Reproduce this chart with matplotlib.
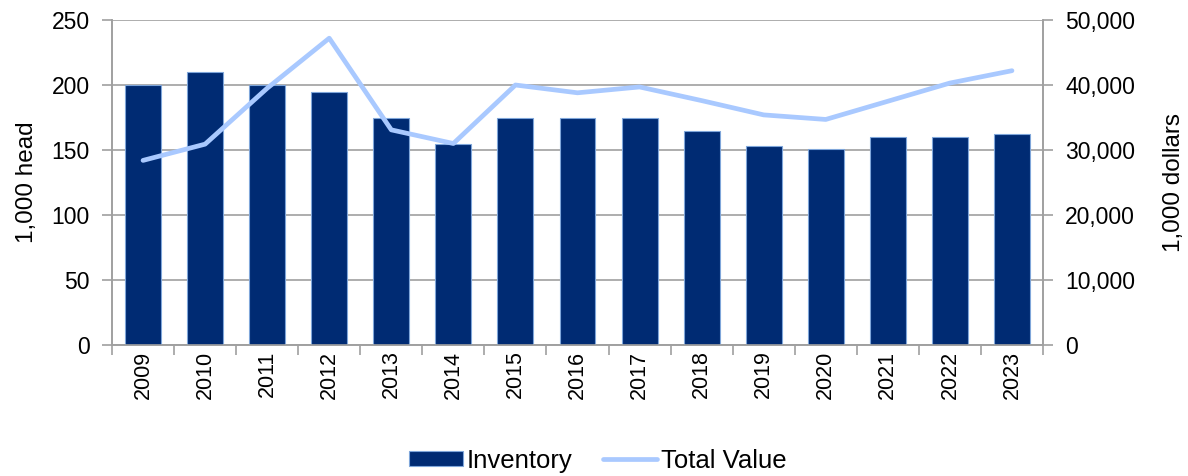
import matplotlib.pyplot as plt
import numpy as np
from matplotlib.ticker import FuncFormatter

plt.rcParams['font.family'] = ['Liberation Sans', 'DejaVu Sans']

years = ['2009', '2010', '2011', '2012', '2013', '2014', '2015', '2016',
         '2017', '2018', '2019', '2020', '2021', '2022', '2023']
inventory = [200, 210, 200, 195, 175, 155, 175, 175, 175, 165, 153, 151, 160, 160, 162]
total_value = [28400, 30900, 39500, 47200, 33100, 31000, 40000, 38800,
               39700, 37600, 35400, 34700, 37500, 40300, 42200]

bar_col = '#002B73'
line_col = '#A9C9FF'
grid_col = '#A0A0A0'

fig = plt.figure(figsize=(11.88, 4.76), dpi=100)
ax = fig.add_axes([112/1188, 1 - 345/476, (1043 - 112)/1188, (345 - 20)/476])
ax2 = ax.twinx()

x = np.arange(len(years))
ax.bar(x, inventory, width=0.58, color=bar_col, edgecolor='#7FA6DA', linewidth=0.8,
       label='Inventory', zorder=3)
ax2.plot(x, total_value, color=line_col, linewidth=3.4, label='Total Value',
         solid_capstyle='round', zorder=4)

ax.set_xlim(-0.5, len(years) - 0.5)
ax.set_ylim(0, 250)
ax.set_yticks(range(0, 251, 50))
ax2.set_ylim(0, 50000)
ax2.set_yticks(range(0, 50001, 10000))
ax2.yaxis.set_major_formatter(FuncFormatter(lambda v, p: f'{int(v):,}'))

ax.grid(axis='y', color=grid_col, linewidth=1.2, zorder=0)
ax.set_axisbelow(True)

# category ticks sit between bars
ax.set_xticks(x)
ax.set_xticklabels(years, rotation=90, fontsize=15.5)
ax.set_xticks(np.arange(-0.5, len(years), 1), minor=True)
ax.tick_params(axis='x', which='major', length=0, pad=4)
ax.tick_params(axis='x', which='minor', length=7, color=grid_col, width=1.2)

ax.tick_params(axis='y', labelsize=16.5, length=7, color=grid_col, width=1.2, pad=9)
ax2.tick_params(axis='y', labelsize=16.5, length=7, color=grid_col, width=1.2, pad=9)

for a in (ax, ax2):
    for s in a.spines.values():
        s.set_color(grid_col)
        s.set_linewidth(1.2)
    a.spines['top'].set_visible(False)

ax.set_ylabel('1,000 head', fontsize=17.5, labelpad=10)
ax2.set_ylabel('1,000 dollars', fontsize=17.5, rotation=90, labelpad=20)

h1, l1 = ax.get_legend_handles_labels()
h2, l2 = ax2.get_legend_handles_labels()
fig.legend(h1 + h2, l1 + l2, loc='center', bbox_to_anchor=(0.503, 0.032), ncol=2,
           frameon=False, fontsize=18.5, handlelength=2.1, handleheight=0.55,
           handletextpad=0.15, columnspacing=1.2, borderpad=0)

fig.savefig('out.png', dpi=100)
